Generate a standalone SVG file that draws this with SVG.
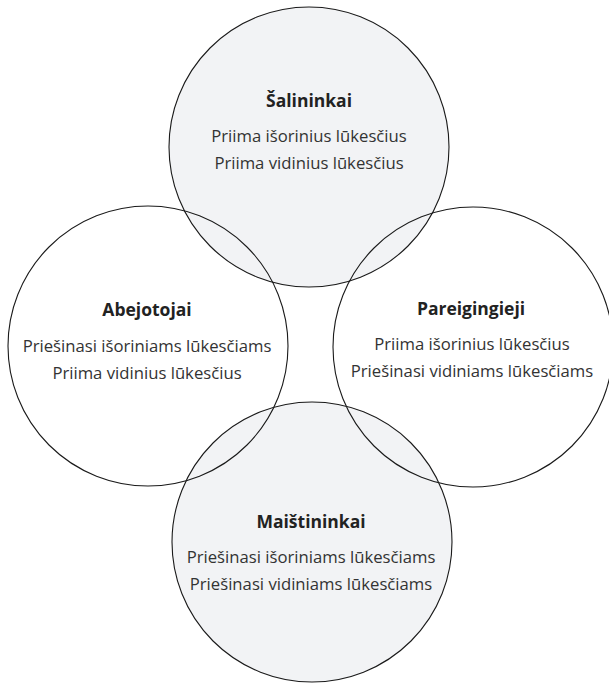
<svg xmlns="http://www.w3.org/2000/svg" width="609" height="684" viewBox="0 0 609 684">
<style>
.shade{fill:#f2f3f5;stroke:none}
.ring{fill:none;stroke:#1a1a1a;stroke-width:1.1}
text{font-family:"Open Sans","Noto Sans",sans-serif;text-anchor:middle;fill:#333}
.t{font-weight:bold;font-size:17.5px;fill:#222}
.d{font-size:16.7px}
</style>
<rect width="609" height="684" fill="#fff"/>
<g id="fills">
<circle class="shade" cx="309" cy="147" r="140"/>
<circle class="shade" cx="312" cy="542" r="140"/>
</g>
<g id="connectors"/>
<g id="salininkai">
<circle class="ring" cx="309" cy="147" r="140"/>
<text class="t" x="309" y="107">Šalininkai</text>
<text class="d" x="309" y="142">Priima išorinius lūkesčius</text>
<text class="d" x="309" y="169">Priima vidinius lūkesčius</text>
</g>
<g id="abejotojai">
<circle class="ring" cx="148" cy="346" r="140"/>
<text class="t" x="147" y="316">Abejotojai</text>
<text class="d" x="147" y="352">Priešinasi išoriniams lūkesčiams</text>
<text class="d" x="147" y="379">Priima vidinius lūkesčius</text>
</g>
<g id="pareigingieji">
<circle class="ring" cx="473" cy="347" r="140"/>
<text class="t" x="471" y="315">Pareigingieji</text>
<text class="d" x="472" y="350">Priima išorinius lūkesčius</text>
<text class="d" x="472" y="377">Priešinasi vidiniams lūkesčiams</text>
</g>
<g id="maistininkai">
<circle class="ring" cx="312" cy="542" r="140"/>
<text class="t" x="311" y="528">Maištininkai</text>
<text class="d" x="311" y="563">Priešinasi išoriniams lūkesčiams</text>
<text class="d" x="311" y="590">Priešinasi vidiniams lūkesčiams</text>
</g>
</svg>
